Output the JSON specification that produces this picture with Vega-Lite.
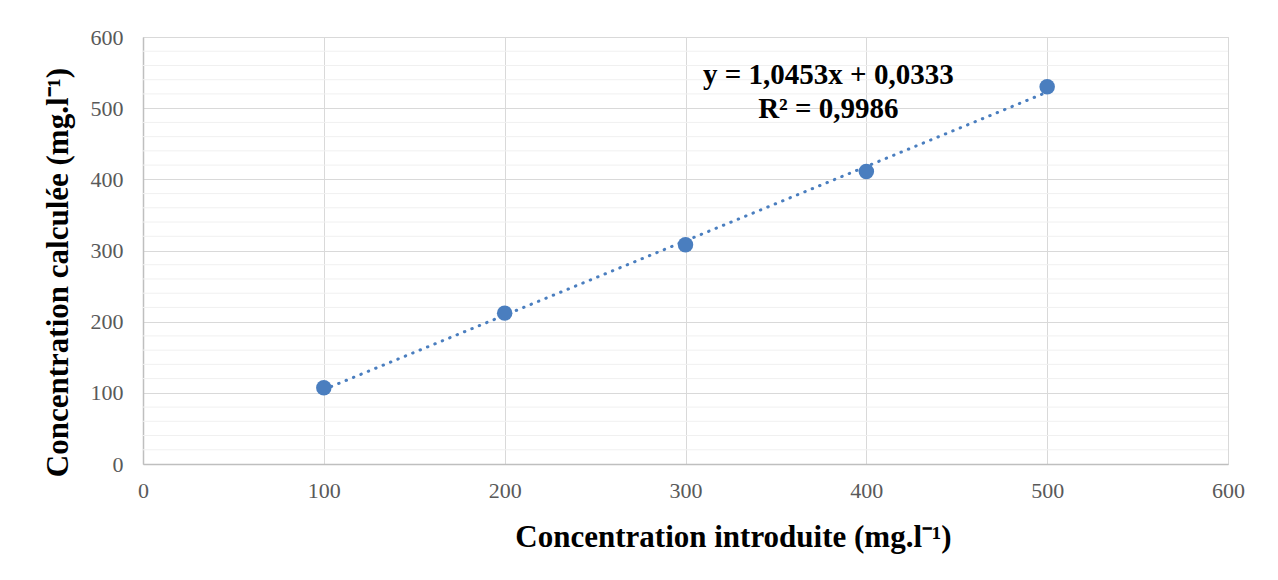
{
  "$schema": "https://vega.github.io/schema/vega-lite/v6.json",
  "autosize": "none",
  "width": 1085,
  "height": 427,
  "padding": {"left": 143, "top": 37, "right": 50, "bottom": 116},
  "background": "white",
  "config": {
    "view": {"stroke": "#d9d9d9", "strokeWidth": 1},
    "axis": {
      "labelFont": "Liberation Serif",
      "labelFontSize": 22,
      "labelColor": "#595959",
      "labelFlush": false,
      "titleFont": "Liberation Serif",
      "titleFontSize": 31,
      "titleFontWeight": "bold",
      "titleColor": "black",
      "gridColor": "#d9d9d9",
      "gridWidth": 1,
      "domainColor": "#bfbfbf",
      "domainWidth": 1.5,
      "ticks": false
    }
  },
  "datasets": {
    "points": [
      {"introduite": 100, "calculee": 107},
      {"introduite": 200, "calculee": 212},
      {"introduite": 300, "calculee": 308},
      {"introduite": 400, "calculee": 411},
      {"introduite": 500, "calculee": 530}
    ],
    "minor": [
      {"v": 20}, {"v": 40}, {"v": 60}, {"v": 80},
      {"v": 120}, {"v": 140}, {"v": 160}, {"v": 180},
      {"v": 220}, {"v": 240}, {"v": 260}, {"v": 280},
      {"v": 320}, {"v": 340}, {"v": 360}, {"v": 380},
      {"v": 420}, {"v": 440}, {"v": 460}, {"v": 480},
      {"v": 520}, {"v": 540}, {"v": 560}, {"v": 580}
    ],
    "labels": [
      {"x": 379, "y": 547, "text": "y = 1,0453x + 0,0333"},
      {"x": 379, "y": 499, "text": "R² = 0,9986"}
    ]
  },
  "layer": [
    {
      "data": {"name": "minor"},
      "mark": {"type": "rule", "color": "#f0f0f0", "strokeWidth": 1},
      "encoding": {
        "y": {
          "field": "v", "type": "quantitative",
          "scale": {"domain": [0, 600], "nice": false},
          "axis": {
            "values": [0, 100, 200, 300, 400, 500, 600],
            "labelPadding": 20,
            "title": "Concentration calculée (mg.l⁻¹)",
            "titlePadding": 16,
            "titleY": 235
          }
        }
      }
    },
    {
      "data": {"name": "points"},
      "mark": {"type": "point", "opacity": 0},
      "encoding": {
        "x": {
          "field": "introduite", "type": "quantitative",
          "scale": {"domain": [0, 600], "nice": false},
          "axis": {
            "values": [0, 100, 200, 300, 400, 500, 600],
            "labelPadding": 16,
            "title": "Concentration introduite (mg.l⁻¹)",
            "titlePadding": 21,
            "titleX": 590
          }
        },
        "y": {"field": "calculee", "type": "quantitative"}
      }
    },
    {
      "data": {"name": "points"},
      "transform": [
        {"regression": "calculee", "on": "introduite", "method": "linear", "extent": [100, 500]}
      ],
      "mark": {"type": "line", "color": "#4a7ebf", "strokeWidth": 3, "strokeCap": "round", "strokeDash": [0.5, 7.5]},
      "encoding": {
        "x": {"field": "introduite", "type": "quantitative"},
        "y": {"field": "calculee", "type": "quantitative"}
      }
    },
    {
      "data": {"name": "points"},
      "mark": {"type": "circle", "color": "#4a7ebf", "opacity": 1, "size": 240},
      "encoding": {
        "x": {"field": "introduite", "type": "quantitative"},
        "y": {"field": "calculee", "type": "quantitative"}
      }
    },
    {
      "data": {"name": "labels"},
      "mark": {"type": "text", "font": "Liberation Serif", "fontSize": 29, "fontWeight": "bold", "color": "black", "align": "center", "baseline": "middle"},
      "encoding": {
        "x": {"field": "x", "type": "quantitative"},
        "y": {"field": "y", "type": "quantitative"},
        "text": {"field": "text"}
      }
    }
  ]
}
